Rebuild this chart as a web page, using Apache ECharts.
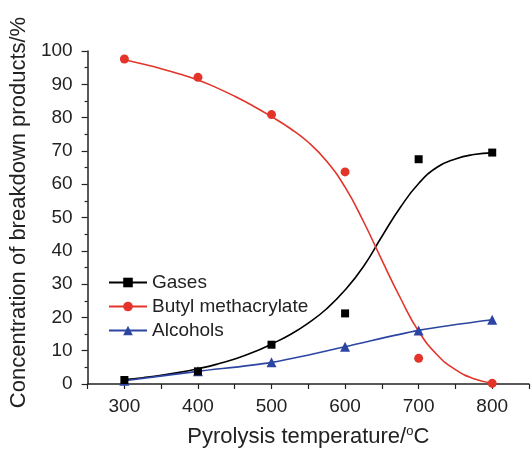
<!DOCTYPE html>
<html>
<head>
<meta charset="utf-8">
<script src="https://cdn.jsdelivr.net/npm/echarts@6/dist/echarts.min.js"></script>
<style>html,body{margin:0;padding:0;background:#fff;}#c{width:532px;height:453px;}</style>
</head>
<body>
<div id="c"></div>
<script>
// measured points
var temps = [300, 400, 500, 600, 700, 800];
var gases = [1.2, 3.8, 11.8, 21.2, 67.5, 69.5];
var butyl = [97.6, 92.1, 80.9, 63.7, 7.7, 0.2];
var alcohols = [1.0, 3.8, 6.5, 11.2, 16.1, 19.3];
// fitted curves
var fitTemps = [300, 325, 350, 375, 400, 425, 450, 475, 500, 525, 550, 575, 600, 625, 650, 675, 700, 725, 750, 775, 800];
var gasesFit = [1.3, 1.9, 2.6, 3.5, 4.6, 5.9, 7.5, 9.5, 12, 14.8, 18.3, 22.6, 28.2, 35.3, 44.3, 53, 60.2, 65.1, 67.6, 68.9, 69.4];
var butylFit = [97.4, 96.1, 94.7, 93.1, 91.3, 89, 86.4, 83.5, 80.3, 76.8, 72.6, 66.9, 59.1, 48.8, 37.2, 25.9, 15.8, 8.8, 4.3, 1.6, 0.3];
var xTicks = [300, 400, 500, 600, 700, 800];
var yTicks = [0, 10, 20, 30, 40, 50, 60, 70, 80, 90, 100];

var RED = '#e3342a', BLUE = '#2c45a3', BLACK = '#000';
function pairs(xs, ys) { return xs.map(function (x, i) { return [x, ys[i]]; }); }
var FONT = 'Liberation Sans, Arial, sans-serif';

var chart = echarts.init(document.getElementById('c'), null, { renderer: 'canvas' });
chart.setOption({
  animation: false,
  backgroundColor: '#fff',
  textStyle: { fontFamily: FONT },
  grid: { left: 87, top: 51, bottom: 69, right: -9, containLabel: false },
  legend: {
    orient: 'vertical', left: 103, top: 268,
    itemWidth: 38, itemHeight: 12, itemGap: 5,
    textStyle: { fontSize: 19, color: '#222', fontFamily: FONT },
    data: ['Gases', 'Butyl methacrylate', 'Alcohols']
  },
  xAxis: {
    type: 'value', min: 250, max: 850, interval: 50,
    name: 'Pyrolysis temperature/{s|o}C', nameLocation: 'middle', nameGap: 41,
    nameTextStyle: { fontSize: 22, color: '#222', fontFamily: FONT,
      rich: { s: { fontSize: 13, verticalAlign: 'top', padding: [0, 0, 11, 0], color: '#222', fontFamily: FONT } } },
    axisLine: { show: true, lineStyle: { color: '#222', width: 1.5 } },
    axisTick: { show: true, length: 5, inside: false, lineStyle: { color: '#222', width: 1.2 } },
    axisLabel: { fontSize: 19, color: '#222', margin: 13, fontFamily: FONT,
      formatter: function (v) { return xTicks.indexOf(v) >= 0 ? String(v) : ''; } },
    splitLine: { show: false }
  },
  yAxis: {
    type: 'value', min: 0, max: 100, interval: 10,
    name: 'Concentration of breakdown products/%', nameLocation: 'middle', nameGap: 44,
    nameTextStyle: { fontSize: 22, color: '#222', fontFamily: FONT, padding: [0, 0, 0, 10] },
    axisLine: { show: true, lineStyle: { color: '#222', width: 1.5 } },
    axisTick: { show: true, length: 6, lineStyle: { color: '#222', width: 1.2 } },
    minorTick: { show: true, splitNumber: 2, length: 3, lineStyle: { color: '#222', width: 1.2 } },
    axisLabel: { fontSize: 19, color: '#222', margin: 15, fontFamily: FONT,
      formatter: function (v) { return yTicks.indexOf(v) >= 0 ? String(v) : ''; } },
    splitLine: { show: false }
  },
  series: [
    { name: 'Gases', type: 'line', data: pairs(fitTemps, gasesFit), smooth: 0.5,
      symbol: 'rect', symbolSize: 8, showSymbol: false,
      lineStyle: { color: BLACK, width: 1.6 }, itemStyle: { color: BLACK }, z: 2 },
    { name: 'Butyl methacrylate', type: 'line', data: pairs(fitTemps, butylFit), smooth: 0.5,
      symbol: 'circle', symbolSize: 9, showSymbol: false,
      lineStyle: { color: RED, width: 1.6 }, itemStyle: { color: RED }, z: 2 },
    { name: 'Alcohols', type: 'line', data: pairs(temps, alcohols), smooth: 0.3,
      symbol: 'triangle', symbolSize: 10, showSymbol: true,
      lineStyle: { color: BLUE, width: 1.6 }, itemStyle: { color: BLUE, opacity: 1 }, z: 3 },
    { name: 'Gases', type: 'scatter', data: pairs(temps, gases), symbol: 'rect', symbolSize: 8,
      itemStyle: { color: BLACK, opacity: 1 }, z: 4 },
    { name: 'Butyl methacrylate', type: 'scatter', data: pairs(temps, butyl), symbol: 'circle', symbolSize: 9,
      itemStyle: { color: RED, opacity: 1 }, z: 4 }
  ]
});
</script>
</body>
</html>
